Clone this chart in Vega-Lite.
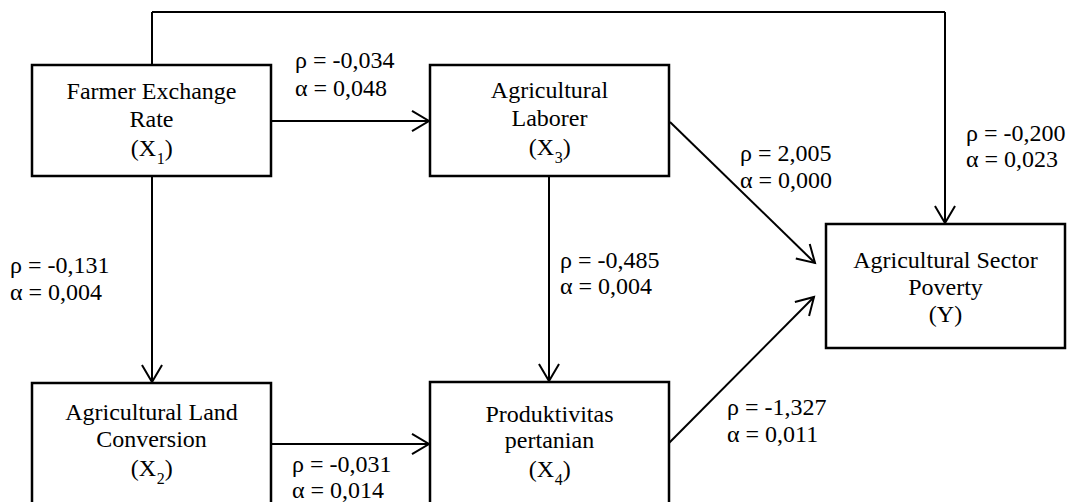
{
  "$schema": "https://vega.github.io/schema/vega-lite/v6.json",
  "width": 1071,
  "height": 502,
  "autosize": {"type": "none"},
  "padding": 0,
  "background": "white",
  "config": {"view": {"stroke": null}},
  "datasets": {
    "boxes": [
      {"id": "X1", "x": 32, "x2": 271, "y": 65, "y2": 176},
      {"id": "X3", "x": 430, "x2": 669, "y": 65, "y2": 176},
      {"id": "Y", "x": 826, "x2": 1065, "y": 224, "y2": 348},
      {"id": "X2", "x": 32, "x2": 271, "y": 383, "y2": 520},
      {"id": "X4", "x": 430, "x2": 669, "y": 382, "y2": 520}
    ],
    "paths": [
      {"x": 152, "y": 65, "x2": 152, "y2": 12},
      {"x": 152, "y": 12, "x2": 945, "y2": 12},
      {"x": 945, "y": 12, "x2": 945, "y2": 223},
      {"x": 271, "y": 121, "x2": 429, "y2": 121},
      {"x": 152, "y": 176, "x2": 152, "y2": 382},
      {"x": 549, "y": 176, "x2": 549, "y2": 381},
      {"x": 271, "y": 444, "x2": 429, "y2": 444},
      {"x": 670, "y": 122, "x2": 815, "y2": 263},
      {"x": 669, "y": 443, "x2": 814, "y2": 297}
    ],
    "tips": [
      {"x": 945, "y": 223, "angle": 90},
      {"x": 429, "y": 121, "angle": 0},
      {"x": 152, "y": 382, "angle": 90},
      {"x": 549, "y": 381, "angle": 90},
      {"x": 429, "y": 444, "angle": 0},
      {"x": 815, "y": 263, "angle": 44},
      {"x": 814, "y": 297, "angle": -45}
    ],
    "nodeText": [
      {"t": "Farmer Exchange", "x": 151.5, "y": 99},
      {"t": "Rate", "x": 151.5, "y": 127},
      {"t": "Agricultural", "x": 549.5, "y": 98},
      {"t": "Laborer", "x": 549.5, "y": 126},
      {"t": "Agricultural Sector", "x": 945.5, "y": 268},
      {"t": "Poverty", "x": 945.5, "y": 295},
      {"t": "(Y)", "x": 945.5, "y": 322},
      {"t": "Agricultural Land", "x": 151.5, "y": 420},
      {"t": "Conversion", "x": 151.5, "y": 447},
      {"t": "Produktivitas", "x": 549.5, "y": 422},
      {"t": "pertanian", "x": 549.5, "y": 448}
    ],
    "varText": [
      {"sub": "1", "x": 151.5, "y": 156},
      {"sub": "3", "x": 549.5, "y": 155},
      {"sub": "2", "x": 151.5, "y": 476},
      {"sub": "4", "x": 549.5, "y": 477}
    ],
    "pathText": [
      {"t": "ρ = -0,034", "x": 295, "y": 68},
      {"t": "α = 0,048", "x": 295, "y": 96},
      {"t": "ρ = -0,131", "x": 10, "y": 273},
      {"t": "α = 0,004", "x": 10, "y": 300},
      {"t": "ρ = -0,485", "x": 560, "y": 268},
      {"t": "α = 0,004", "x": 560, "y": 294},
      {"t": "ρ = 2,005", "x": 740, "y": 161},
      {"t": "α = 0,000", "x": 740, "y": 188},
      {"t": "ρ = -0,200", "x": 966, "y": 141},
      {"t": "α = 0,023", "x": 966, "y": 167},
      {"t": "ρ = -1,327", "x": 727, "y": 415},
      {"t": "α = 0,011", "x": 727, "y": 442},
      {"t": "ρ = -0,031", "x": 292, "y": 472},
      {"t": "α = 0,014", "x": 292, "y": 498}
    ]
  },
  "layer": [
    {
      "data": {"name": "paths"},
      "mark": {"type": "rule", "stroke": "black", "strokeWidth": 2},
      "encoding": {
        "x": {"field": "x", "type": "quantitative", "scale": {"domain": [0, 1071], "nice": false, "zero": false}, "axis": null},
        "y": {"field": "y", "type": "quantitative", "scale": {"domain": [0, 502], "nice": false, "zero": false, "reverse": true}, "axis": null},
        "x2": {"field": "x2"},
        "y2": {"field": "y2"}
      }
    },
    {
      "data": {"name": "boxes"},
      "mark": {"type": "rect", "fill": "white", "stroke": "black", "strokeWidth": 2.5},
      "encoding": {
        "x": {"field": "x", "type": "quantitative", "axis": null},
        "y": {"field": "y", "type": "quantitative", "axis": null},
        "x2": {"field": "x2"},
        "y2": {"field": "y2"}
      }
    },
    {
      "data": {"name": "tips"},
      "mark": {"type": "point", "shape": "M-1,-0.59L0,0L-1,0.59", "filled": false, "stroke": "black", "strokeWidth": 2, "size": 1156, "opacity": 1},
      "encoding": {
        "x": {"field": "x", "type": "quantitative", "axis": null},
        "y": {"field": "y", "type": "quantitative", "axis": null},
        "angle": {"field": "angle", "type": "quantitative", "scale": null}
      }
    },
    {
      "data": {"name": "nodeText"},
      "mark": {"type": "text", "align": "center", "baseline": "alphabetic", "font": "Liberation Serif, Times New Roman, serif", "fontSize": 24, "color": "black"},
      "encoding": {
        "x": {"field": "x", "type": "quantitative", "axis": null},
        "y": {"field": "y", "type": "quantitative", "axis": null},
        "text": {"field": "t"}
      }
    },
    {
      "data": {"name": "varText"},
      "mark": {"type": "text", "align": "right", "baseline": "alphabetic", "dx": 4.7, "font": "Liberation Serif, Times New Roman, serif", "fontSize": 24, "color": "black"},
      "encoding": {
        "x": {"field": "x", "type": "quantitative", "axis": null},
        "y": {"field": "y", "type": "quantitative", "axis": null},
        "text": {"value": "(X"}
      }
    },
    {
      "data": {"name": "varText"},
      "mark": {"type": "text", "align": "left", "baseline": "alphabetic", "dx": 5.2, "dy": 7.5, "font": "Liberation Serif, Times New Roman, serif", "fontSize": 16, "color": "black"},
      "encoding": {
        "x": {"field": "x", "type": "quantitative", "axis": null},
        "y": {"field": "y", "type": "quantitative", "axis": null},
        "text": {"field": "sub"}
      }
    },
    {
      "data": {"name": "varText"},
      "mark": {"type": "text", "align": "left", "baseline": "alphabetic", "dx": 13.2, "font": "Liberation Serif, Times New Roman, serif", "fontSize": 24, "color": "black"},
      "encoding": {
        "x": {"field": "x", "type": "quantitative", "axis": null},
        "y": {"field": "y", "type": "quantitative", "axis": null},
        "text": {"value": ")"}
      }
    },
    {
      "data": {"name": "pathText"},
      "mark": {"type": "text", "align": "left", "baseline": "alphabetic", "font": "Liberation Serif, Times New Roman, serif", "fontSize": 24, "color": "black"},
      "encoding": {
        "x": {"field": "x", "type": "quantitative", "axis": null},
        "y": {"field": "y", "type": "quantitative", "axis": null},
        "text": {"field": "t"}
      }
    }
  ]
}
